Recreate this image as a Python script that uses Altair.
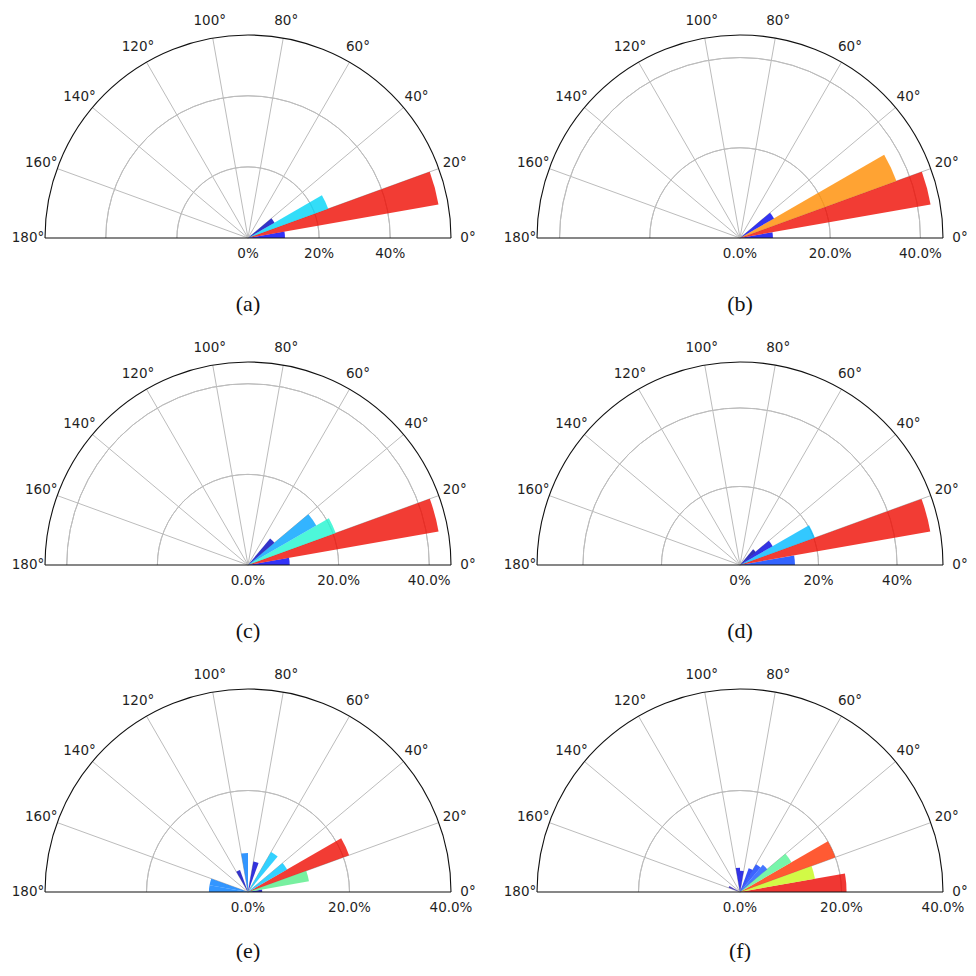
import math
import altair as alt
import pandas as pd

# ---------------- data ----------------
BIN_WIDTH = 10  # degrees per bar

A_START = [0, 10, 20, 30]
A_VALUE = [10.4, 54.4, 24.0, 8.6]

B_START = [0, 10, 20, 30]
B_VALUE = [7.3, 42.9, 36.9, 8.7]

C_START = [0, 10, 20, 30, 40]
C_VALUE = [9.2, 42.7, 20.6, 17.4, 7.6]

D_START = [0, 10, 20, 30, 40]
D_VALUE = [14.0, 49.2, 20.3, 9.6, 5.2]

E_START = [0, 10, 20, 30, 50, 70, 90, 110, 160, 170]
E_VALUE = [2.8, 12.2, 21.2, 8.9, 9.1, 6.1, 7.7, 4.6, 7.7, 7.7]

F_START = [0, 10, 20, 30, 40, 50, 60, 80, 90, 150]
F_VALUE = [21.0, 15.0, 20.0, 11.7, 7.0, 6.3, 5.0, 4.2, 4.8, 2.4]

PANEL_LABELS = ["(a)", "(b)", "(c)", "(d)", "(e)", "(f)"]
R_LIMITS = [57.1, 45.0, 44.8, 51.7, 40.0, 40.0]
R_TICKS = [0, 20, 40]
TICK_FORMATS = [".0f", ".1f", ".1f", ".0f", ".1f", ".1f"]
THETA_LABELS = [0, 20, 40, 60, 80, 100, 120, 140, 160, 180]
SPOKES = [20, 40, 60, 80, 100, 120, 140, 160]

# ---------------- styles ----------------
A_COLORS = ["#0000f6", "#ef0b01", "#00d4f6", "#0000bb"]
B_COLORS = ["#0000f0", "#ef0b01", "#ff8c00", "#0000ee"]
C_COLORS = ["#0000f6", "#ef0b01", "#20f5d0", "#00a1ff", "#0000bb"]
D_COLORS = ["#003dff", "#ef0b01", "#00baff", "#0000dd", "#0000a8"]
E_COLORS = ["#0000bb", "#56ec88", "#ef0b01", "#00c6ff", "#00c6ff",
            "#0000d3", "#007cff", "#0000c0", "#007cff", "#007cff"]
F_COLORS = ["#ec0500", "#c7f918", "#ff3100", "#56f295", "#1856ff",
            "#0b3dff", "#0527f9", "#0000e0", "#0000e0", "#2b18ae"]

GRID = "#bcbcbc"
TEXT = "#1f1f1f"
R_PX = 203.0        # outer radius in pixels
LABEL_PX = 220.0    # radius of angle labels in pixels
CX, CY = 240, 230   # centre of the half-disc within each panel
COL_W = [492, 468]
ROW_H = [327, 327, 300]
CAP_DY = [66, 66, 59]


def panel(label, starts, values, colors, rlim, fmt, W, H, cap_dy):
    k = R_PX / rlim
    xs = alt.Scale(domain=[-CX / k, (W - CX) / k], nice=False, zero=False)
    ys = alt.Scale(domain=[-(H - CY) / k, CY / k], nice=False, zero=False)
    ts = alt.Scale(domain=[0, 180], range=[2.5 * math.pi, 1.5 * math.pi])
    rs = alt.Scale(type="linear", domain=[0, rlim], range=[0, R_PX], zero=True, nice=False)
    xc = alt.X("cx:Q", scale=xs, axis=None)
    yc = alt.Y("cy:Q", scale=ys, axis=None)
    rl = rlim * LABEL_PX / R_PX

    ids = [f"{label}{i}" for i in range(len(starts))]
    bars_df = pd.DataFrame({"a0": starts, "v": values, "id": ids})
    bars = alt.Chart(bars_df).transform_calculate(
        a1=f"datum.a0 + {BIN_WIDTH}", cx="0", cy="0"
    ).mark_arc(opacity=0.8, strokeWidth=0).encode(
        x=xc, y=yc,
        theta=alt.Theta("a0:Q", scale=ts, stack=False),
        theta2=alt.Theta2("a1"),
        radius=alt.Radius("v:Q", scale=rs, stack=False),
        color=alt.Color("id:N", scale=alt.Scale(domain=ids, range=colors), legend=None),
    )

    circ_df = pd.DataFrame({"r": [t for t in R_TICKS if 0 < t < rlim - 0.5]})
    circles = alt.Chart(circ_df).transform_calculate(
        t0="0", t1="180", cx="0", cy="0"
    ).mark_arc(fillOpacity=0, stroke=GRID, strokeWidth=1).encode(
        x=xc, y=yc,
        theta=alt.Theta("t0:Q", scale=ts, stack=False),
        theta2=alt.Theta2("t1"),
        radius=alt.Radius("r:Q", scale=rs, stack=False),
        radius2=alt.Radius2("r"),
    )

    outer = alt.Chart(pd.DataFrame({"r": [rlim]})).transform_calculate(
        t0="0", t1="180", cx="0", cy="0"
    ).mark_arc(fillOpacity=0, stroke="#111111", strokeWidth=1.1).encode(
        x=xc, y=yc,
        theta=alt.Theta("t0:Q", scale=ts, stack=False),
        theta2=alt.Theta2("t1"),
        radius=alt.Radius("r:Q", scale=rs, stack=False),
        radius2=alt.Radius2("r"),
    )

    spokes = alt.Chart(pd.DataFrame({"a": SPOKES})).transform_calculate(
        cx="0", cy="0",
        ex=f"{rlim} * cos(datum.a * PI / 180)",
        ey=f"{rlim} * sin(datum.a * PI / 180)",
    ).mark_rule(color=GRID, strokeWidth=1).encode(
        x=xc, y=yc, x2=alt.X2("ex"), y2=alt.Y2("ey")
    )

    base = alt.Chart(pd.DataFrame({"x0": [-rlim], "x1": [rlim]})).transform_calculate(
        cy="0"
    ).mark_rule(color="#111111", strokeWidth=1.1).encode(
        x=alt.X("x0:Q", scale=xs, axis=None), x2=alt.X2("x1"), y=yc
    )

    theta_txt = alt.Chart(pd.DataFrame({"a": THETA_LABELS})).transform_calculate(
        lx=f"{rl} * cos(datum.a * PI / 180)",
        ly=f"{rl} * sin(datum.a * PI / 180)",
        txt="datum.a + '°'",
    ).mark_text(font="DejaVu Sans", fontSize=13.5, color=TEXT,
                align="center", baseline="middle").encode(
        x=alt.X("lx:Q", scale=xs, axis=None),
        y=alt.Y("ly:Q", scale=ys, axis=None),
        text=alt.Text("txt:N"),
    )

    r_txt = alt.Chart(pd.DataFrame({"r": R_TICKS})).transform_calculate(
        cy="0", txt=f"format(datum.r, '{fmt}') + '%'"
    ).mark_text(font="DejaVu Sans", fontSize=13.5, color=TEXT,
                align="center", baseline="middle", dy=16).encode(
        x=alt.X("r:Q", scale=xs, axis=None), y=yc, text=alt.Text("txt:N")
    )

    cap = alt.Chart(pd.DataFrame({"t": [label]})).transform_calculate(
        cx="0", cy="0"
    ).mark_text(font="Liberation Serif", fontSize=22, color="#111111",
                align="center", baseline="middle", dy=cap_dy).encode(
        x=xc, y=yc, text=alt.Text("t:N")
    )

    return alt.layer(circles, spokes, bars, outer, base, theta_txt, r_txt, cap).properties(
        width=W, height=H
    )


starts = [A_START, B_START, C_START, D_START, E_START, F_START]
vals = [A_VALUE, B_VALUE, C_VALUE, D_VALUE, E_VALUE, F_VALUE]
cols = [A_COLORS, B_COLORS, C_COLORS, D_COLORS, E_COLORS, F_COLORS]

panels = [
    panel(PANEL_LABELS[i], starts[i], vals[i], cols[i], R_LIMITS[i], TICK_FORMATS[i],
          COL_W[i % 2], ROW_H[i // 2], CAP_DY[i // 2])
    for i in range(6)
]

chart = alt.concat(*panels, columns=2, spacing=0, bounds="flush").resolve_scale(
    x="independent", y="independent", color="independent",
    theta="independent", radius="independent",
).properties(padding=0).configure_view(strokeWidth=0)

chart.save("out.html", embed_options={"renderer": "svg", "actions": False})
